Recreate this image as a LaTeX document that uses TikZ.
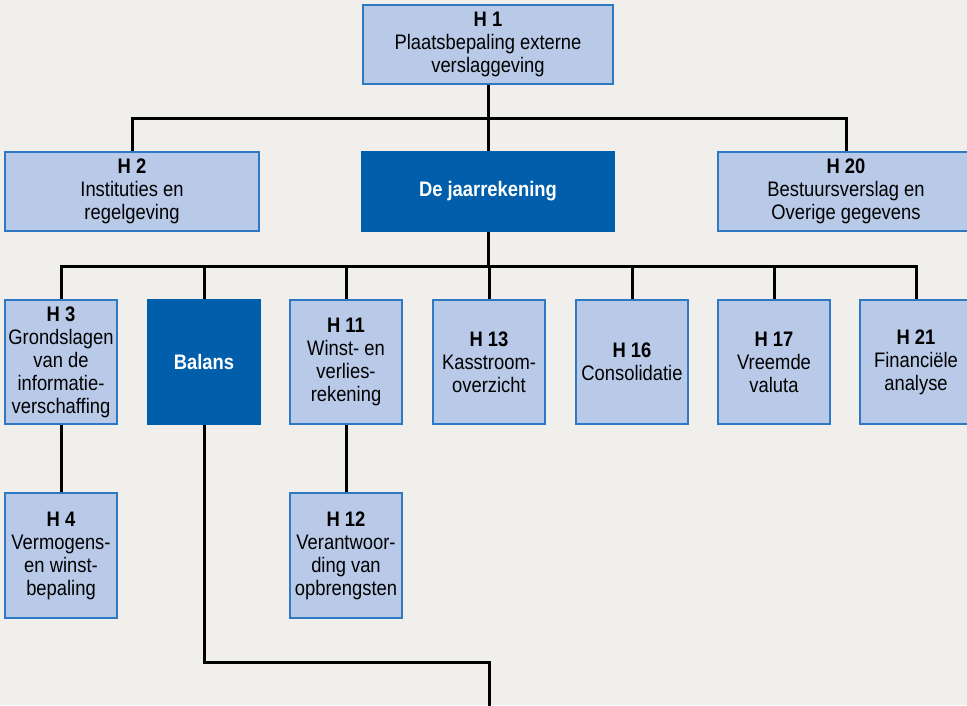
\documentclass[tikz,border=0pt]{standalone}
\usepackage{fontspec}
\setmainfont[FakeStretch=0.875]{Liberation Sans}
\usetikzlibrary{backgrounds}
\definecolor{bg}{RGB}{240,239,235}
\definecolor{lightbox}{RGB}{185,202,232}
\definecolor{boxborder}{RGB}{46,120,196}
\definecolor{darkbox}{RGB}{0,94,171}
\begin{document}
\begin{tikzpicture}[x=1pt,y=-1pt,
  every node/.style={font=\fontsize{21}{23}\selectfont, align=center, inner sep=0pt},
  chap/.style={draw=boxborder, line width=1.4pt, fill=lightbox, minimum width=#1, minimum height=79pt},
  chap/.default=250pt,
  colbox/.style={draw=boxborder, line width=1.4pt, fill=lightbox, minimum width=112pt, minimum height=124pt},
  darkstyle/.style={draw=darkbox, fill=darkbox, text=white, font=\fontsize{21}{23}\selectfont\bfseries},
  conn/.style={line width=3pt, black}]
\clip (0,0) rectangle (967,705);
% top level
\node[chap=250pt] (H1) at (488,44.5) {\textbf{H 1}\\Plaatsbepaling externe\\verslaggeving};
\node[chap=254pt] (H2) at (132,191.5) {\textbf{H 2}\\Instituties en\\regelgeving};
\node[chap=253pt, darkstyle] (DJ) at (488,191.5) {De jaarrekening};
\node[chap=256pt] (H20) at (846,191.5) {\textbf{H 20}\\Bestuursverslag en\\Overige gegevens};
% column row
\node[colbox] (H3) at (61,362) {\textbf{H 3}\\Grondslagen\\van de\\informatie-\\verschaffing};
\node[colbox, darkstyle] (BAL) at (204,362) {Balans};
\node[colbox] (H11) at (346,362) {\textbf{H 11}\\Winst- en\\verlies-\\rekening};
\node[colbox] (H13) at (489,362) {\textbf{H 13}\\Kasstroom-\\overzicht};
\node[colbox] (H16) at (632,362) {\textbf{H 16}\\Consolidatie};
\node[colbox] (H17) at (774,362) {\textbf{H 17}\\Vreemde\\valuta};
\node[colbox] (H21) at (916,362) {\textbf{H 21}\\Financiële\\analyse};
% lower row
\node[colbox, minimum height=125pt] (H4) at (61,555.5) {\textbf{H 4}\\Vermogens-\\en winst-\\bepaling};
\node[colbox, minimum height=125pt] (H12) at (346,555.5) {\textbf{H 12}\\Verantwoor-\\ding van\\opbrengsten};
% junctions
\coordinate (j1) at (488,118);
\coordinate (j2) at (488,266);
\coordinate (bend) at (489,662);
\coordinate (bottom) at (489,712);
% connectors
\begin{scope}[on background layer]
\fill[bg] (0,0) rectangle (967,705);
\draw[conn] (H1.south) -- (DJ.north);
\draw[conn] (H2.north) -- (H2.north |- j1) -- (H20.north |- j1) -- (H20.north);
\draw[conn] (DJ.south) -- (j2);
\draw[conn] (H3.north) -- (H3.north |- j2) -- (H21.north |- j2) -- (H21.north);
\foreach \n in {BAL,H11,H13,H16,H17} \draw[conn] (\n.north) -- (\n.north |- j2);
\draw[conn] (H3.south) -- (H4.north);
\draw[conn] (H11.south) -- (H12.north);
\draw[conn] (BAL.south) |- (bend) -- (bottom);
\end{scope}
\end{tikzpicture}
\end{document}
